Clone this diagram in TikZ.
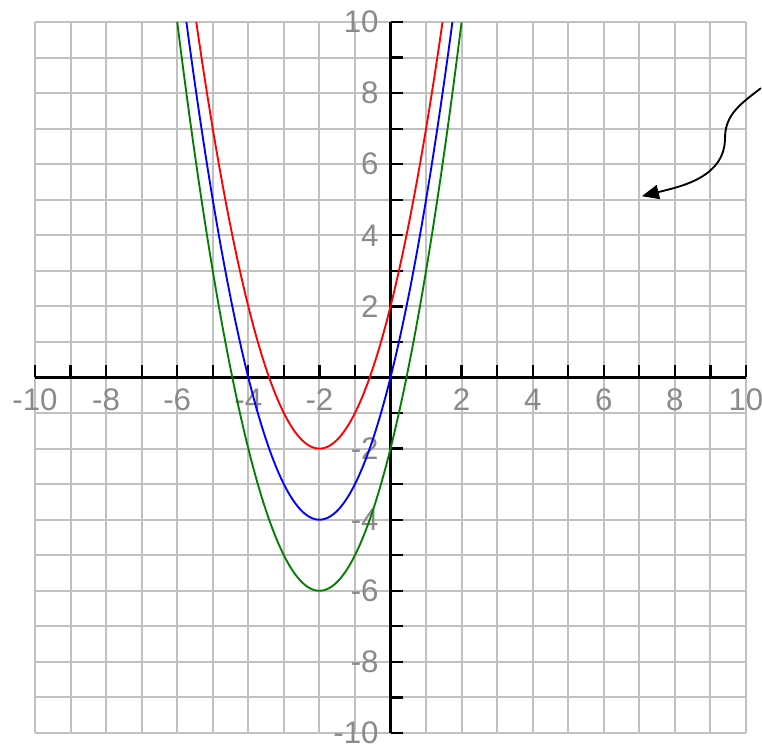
\documentclass[tikz,border=0pt]{standalone}
\usepackage{fontspec}
\setmainfont{Liberation Sans}
\usetikzlibrary{arrows.meta}
\definecolor{gridgray}{HTML}{C0C0C0}
\definecolor{labelgray}{HTML}{8A8A8A}
\definecolor{curvegreen}{HTML}{008000}
\begin{document}
\begin{tikzpicture}[x=1cm,y=1cm,
  gridline/.style={draw=gridgray, line width=1.6pt},
  axisline/.style={draw=black, line width=1.8pt},
  tickmark/.style={draw=black, line width=1.8pt},
  numlabel/.style={text=labelgray, font=\fontsize{25}{29}\selectfont, inner sep=0pt},
  curve/.style={line width=1.5pt},
  pointer/.style={draw=black, line width=1.5pt, -{Triangle[length=0.48cm,width=0.4cm]}}
]
\useasboundingbox (-10.985,-10.309) rectangle (10.450,10.619);
% grid
\draw[gridline] (-10,-10) grid (10,10);
% labels
\foreach \v in {-10,-8,-6,-4,-2,2,4,6,8,10} {
  \node[numlabel] (xl\v) at (\v,-0.63) {\v};
  \node[numlabel, anchor=east] (yl\v) at (-0.33,\v) {\v};
}
% axes
\draw[axisline] (-10,0) -- (10,0);
\draw[axisline] (0,-10) -- (0,10);
\foreach \i in {-10,...,10} {
  \draw[tickmark] (\i,0) -- (\i,0.35);
  \draw[tickmark] (0,\i) -- (0.35,\i);
}
% curves
\draw[red, curve] plot[domain=-5.4641:1.4641, samples=140] (\x, {(\x+2)^2-2});
\draw[blue, curve] plot[domain=-5.7417:1.7417, samples=140] (\x, {(\x+2)^2-4});
\draw[curvegreen, curve] plot[domain=-6:2, samples=140] (\x, {(\x+2)^2-6});
% pointer arrow
\coordinate (arrstart) at (10.42,8.14);
\coordinate (arrmid) at (9.41,6.74);
\coordinate (arrtip) at (7.07,5.10);
\draw[pointer] (arrstart) to[out=218,in=90] (arrmid) to[out=270,in=14] (arrtip);
\end{tikzpicture}
\end{document}
